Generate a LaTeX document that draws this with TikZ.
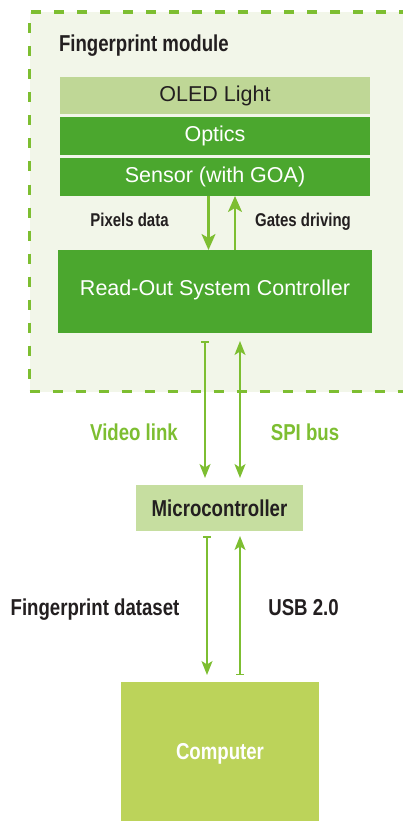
\documentclass[tikz,border=0pt]{standalone}
\usepackage{fontspec}
\setmainfont{Liberation Sans}
\newfontfamily\cb{Liberation Sans Bold}[FakeStretch=0.81]
\usetikzlibrary{arrows.meta}
\definecolor{modbg}{HTML}{F2F6E9}
\definecolor{dashc}{HTML}{7DBE31}
\definecolor{oled}{HTML}{BFD796}
\definecolor{dgreen}{HTML}{4BA72E}
\definecolor{microc}{HTML}{C6DEA0}
\definecolor{compc}{HTML}{BCD35A}
\definecolor{arrc}{HTML}{7DBE31}
\definecolor{txt}{HTML}{231F20}
\begin{document}
\begin{tikzpicture}[x=1pt,y=-1pt,
  every node/.style={inner sep=0pt, outer sep=0pt},
  modbox/.style={draw=dashc, fill=modbg, line width=3.5pt, dash pattern=on 10pt off 13pt},
  layer/.style={minimum width=310pt, font=\fontsize{21.5}{24}\selectfont, text height=15.4pt, text depth=3.5pt},
  boldtxt/.style={font=\cb\fontsize{23}{25}\selectfont, text=txt},
  smalllab/.style={font=\cb\fontsize{18.5}{21}\selectfont, text=txt},
  fatarr/.style={draw=arrc, line width=2.2pt, -{Stealth[length=16pt,width=14pt,inset=4pt]}},
  thinarr/.style={draw=arrc, line width=1.5pt},
  tipS/.tip={Stealth[length=14pt,width=11pt,inset=3.5pt]},
  tipB/.tip={Bar[width=8pt]}
]
\clip (0,0) rectangle (403,821);
\fill[white] (0,0) rectangle (403,821);

% module container
\node[modbox, minimum width=391pt, minimum height=379.5pt] (module) at (225,201.75) {};
\node[boldtxt, anchor=base west] (modtitle) at (59,52) {Fingerprint module};

% layers
\node[layer, fill=oled, text=txt, minimum height=37pt] (oledn) at (215,95.5) {OLED Light};
\node[layer, fill=dgreen, text=white, minimum height=38pt] (optics) at (215,136) {Optics};
\node[layer, fill=dgreen, text=white, minimum height=38pt] (sensor) at (215,177) {Sensor (with GOA)};
\node[layer, fill=dgreen, text=white, minimum width=314pt, minimum height=83pt, text depth=8pt] (rosc) at (215,291.5) {Read-Out System Controller};

% module arrows
\draw[fatarr] ([xshift=-6.5pt]sensor.south) -- ([xshift=-6.5pt]rosc.north);
\draw[fatarr] ([xshift=20pt]rosc.north) -- ([xshift=20pt]sensor.south);
\node[smalllab, anchor=base] (pix) at (129.5,226) {Pixels data};
\node[smalllab, anchor=base] (gates) at (303,226) {Gates driving};

% microcontroller
\node[boldtxt, fill=microc, minimum width=167pt, minimum height=46pt, text height=16.5pt, text depth=0pt] (micro) at (219.5,508) {Microcontroller};

% links rosc <-> micro
\draw[thinarr, {tipB}-{tipS}, shorten <=8pt, shorten >=7pt] ([xshift=-10pt]rosc.south) -- ([xshift=-10pt]rosc.south |- micro.north);
\draw[thinarr, {tipS}-{tipS}, shorten <=8pt, shorten >=7pt] ([xshift=25pt]rosc.south) -- ([xshift=25pt]rosc.south |- micro.north);
\node[boldtxt, text=arrc, anchor=base] (video) at (134,440) {Video link};
\node[boldtxt, text=arrc, anchor=base] (spi) at (305,440) {SPI bus};

% computer
\node[boldtxt, text=white, fill=compc, minimum width=198pt, minimum height=139pt, text height=16.5pt, text depth=0pt] (comp) at (220,751.5) {Computer};

% links micro <-> computer
\draw[thinarr, {tipB}-{tipS}, shorten <=5pt, shorten >=7pt] ([xshift=-12.5pt]micro.south) -- ([xshift=-12.5pt]micro.south |- comp.north);
\draw[thinarr, {tipB}-{tipS}, shorten <=7pt, shorten >=5pt] ([xshift=20.5pt]micro.south |- comp.north) -- ([xshift=20.5pt]micro.south);
\node[boldtxt, anchor=base] (fpd) at (95,615) {Fingerprint dataset};
\node[boldtxt, anchor=base] (usb) at (303.5,615) {USB 2.0};
\end{tikzpicture}
\end{document}
